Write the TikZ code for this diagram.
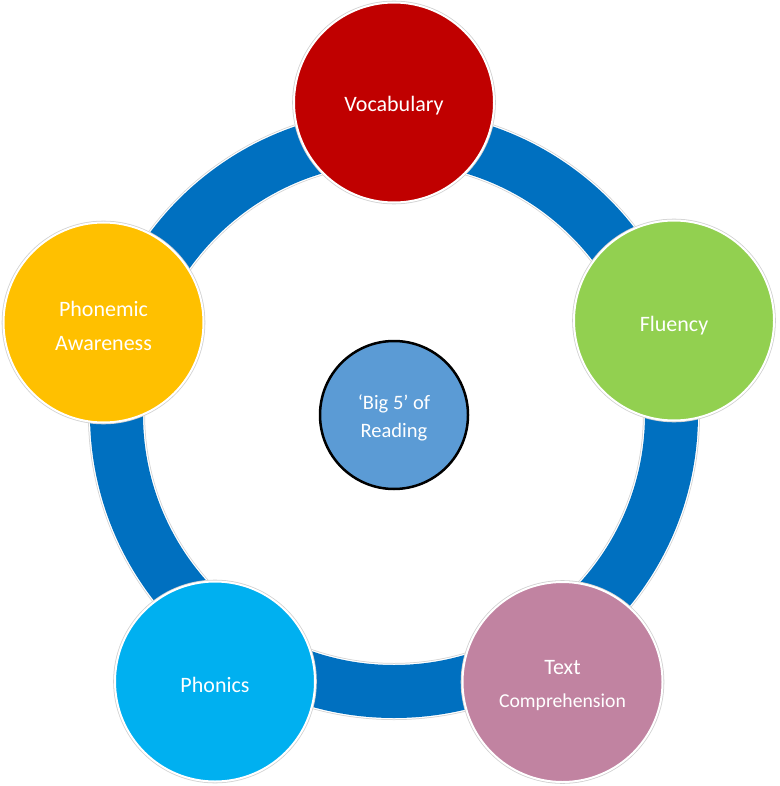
\documentclass[tikz,border=0pt]{standalone}
\usepackage{fontspec}
\setmainfont{Carlito}
\definecolor{ringblue}{HTML}{0070C0}
\definecolor{vocred}{HTML}{C00000}
\definecolor{flugreen}{HTML}{92D050}
\definecolor{compink}{HTML}{C183A1}
\definecolor{phoblue}{HTML}{00B0F0}
\definecolor{phmyellow}{HTML}{FFC000}
\definecolor{midblue}{HTML}{5B9BD5}
\tikzset{
  bubble/.style={circle, minimum size=200pt, inner sep=0pt, draw=white, line width=2pt,
    preaction={draw=black!18, line width=3.6pt}},
  btext/.style={text=white, align=center, inner sep=0pt, yshift=-3.5pt,
    font=\fontsize{22}{34.5}\selectfont},
  hub/.style={circle, minimum size=148pt, inner sep=0pt, draw=black, line width=2.5pt,
    fill=midblue},
  htext/.style={text=white, align=center, inner sep=0pt, yshift=-2.5pt,
    font=\fontsize{20.5}{28}\selectfont}
}
\begin{document}
\begin{tikzpicture}[x=1pt,y=-1pt]
\useasboundingbox (0,0) rectangle (779,786);
\coordinate (ringc) at (394,414);
% ring
\draw[black!18, line width=57pt] (ringc) circle (277.5pt);
\draw[white, line width=55.5pt] (ringc) circle (277.5pt);
\draw[ringblue, line width=53pt] (ringc) circle (277.5pt);
% hub
\node[hub] (hub) at (394,415) {};
\node[htext] (hubt) at (hub.center) {‘Big 5’ of\\Reading};
% bubbles
\node[bubble, fill=vocred] (voc) at (394,102.5) {};
\node[btext] (voct) at (voc.center) {Vocabulary};
\node[bubble, fill=flugreen] (flu) at (674,320.5) {};
\node[btext, yshift=-2pt] (flut) at (flu.center) {Fluency};
\node[bubble, fill=compink] (comp) at (562.5,682) {};
\node[btext] (compt) at (comp.center) {Text\\[-2pt]{\fontsize{19.7}{30}\selectfont Comprehension}};
\node[bubble, fill=phoblue] (pho) at (215,681.5) {};
\node[btext] (phot) at (pho.center) {Phonics};
\node[bubble, fill=phmyellow] (phm) at (103.5,322.5) {};
\node[btext] (phmt) at (phm.center) {Phonemic\\Awareness};
\end{tikzpicture}
\end{document}
